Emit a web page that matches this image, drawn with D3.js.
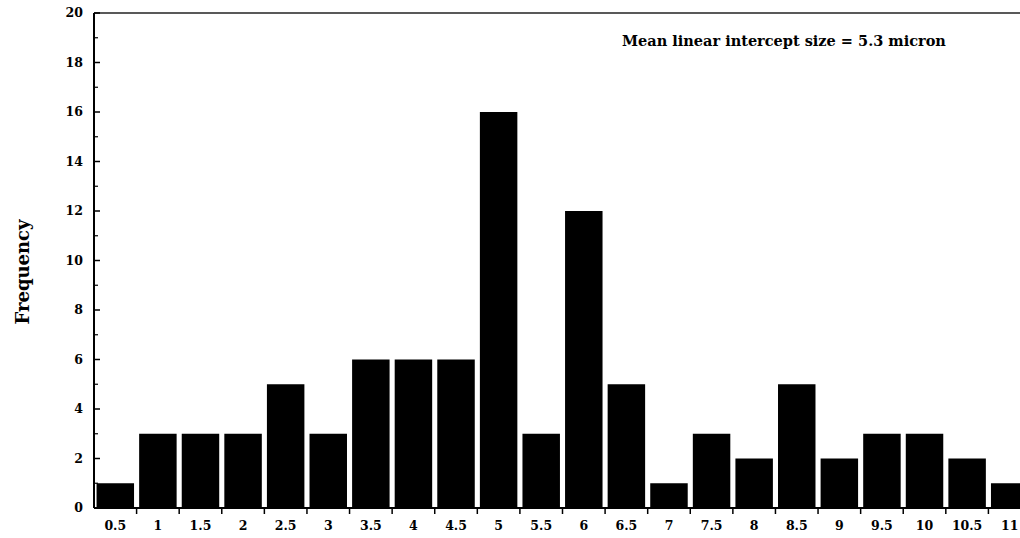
<!DOCTYPE html>
<html>
<head>
<meta charset="utf-8">
<script src="https://cdn.jsdelivr.net/npm/d3@7"></script>
<style>
  body { margin: 0; background: #fff; }
  svg { display: block; }
  text { font-family: "DejaVu Serif", serif; font-weight: bold; fill: #000; }
</style>
</head>
<body>
<div id="chart"></div>
<script>
// intercept size classes (micron) and how many intercepts fell in each
const sizes = ["0.5", "1", "1.5", "2", "2.5", "3", "3.5", "4", "4.5", "5", "5.5",
               "6", "6.5", "7", "7.5", "8", "8.5", "9", "9.5", "10", "10.5", "11"];
const counts = [1, 3, 3, 3, 5, 3, 6, 6, 6, 16, 3, 12, 5, 1, 3, 2, 5, 2, 3, 3, 2, 1];
const yTicks = [0, 2, 4, 6, 8, 10, 12, 14, 16, 18, 20];
const yMinor = [1, 3, 5, 7, 9, 11, 13, 15, 17, 19];
const note = "Mean linear intercept size = 5.3 micron";

const width = 1020,
      height = 538;

// plot box, the picture is cut off on the right so the last band runs past the edge
const plotLeft = 94, plotTop = 13, plotBottom = 508, plotRight = 1031;

let svg = d3.select("#chart")
            .append("svg")
            .attr("width", width)
            .attr("height", height);

let x = d3.scaleBand()
          .domain(sizes)
          .range([plotLeft, plotRight])
          .paddingInner(0.12)
          .paddingOuter(0.06);

let y = d3.scaleLinear()
          .domain([0, 20])
          .range([plotBottom, plotTop]);

// bars
svg.append("g")
   .selectAll("rect")
   .data(counts)
   .enter()
   .append("rect")
   .attr("x", (d, i) => x(sizes[i]))
   .attr("width", x.bandwidth())
   .attr("y", d => y(d))
   .attr("height", d => y(0) - y(d))
   .attr("fill", "#000");

// top frame line
svg.append("line")
   .attr("x1", plotLeft).attr("x2", width)
   .attr("y1", plotTop).attr("y2", plotTop)
   .attr("stroke", "#222")
   .attr("stroke-width", 1.5);

/////// Y AXIS ///////
let yAxis = svg.append("g");
yAxis.append("line")
     .attr("x1", plotLeft).attr("x2", plotLeft)
     .attr("y1", plotTop).attr("y2", plotBottom)
     .attr("stroke", "#000")
     .attr("stroke-width", 2);

yAxis.selectAll(".major")
     .data(yTicks)
     .enter()
     .append("line")
     .attr("x1", plotLeft).attr("x2", plotLeft + 6)
     .attr("y1", d => y(d)).attr("y2", d => y(d))
     .attr("stroke", "#000")
     .attr("stroke-width", 1.5);

yAxis.selectAll(".minor")
     .data(yMinor)
     .enter()
     .append("line")
     .attr("x1", plotLeft).attr("x2", plotLeft + 4)
     .attr("y1", d => y(d)).attr("y2", d => y(d))
     .attr("stroke", "#000")
     .attr("stroke-width", 1.2);

yAxis.selectAll("text")
     .data(yTicks)
     .enter()
     .append("text")
     .attr("x", plotLeft - 11)
     .attr("y", d => y(d))
     .attr("dy", "0.35em")
     .attr("text-anchor", "end")
     .style("font-size", "12.5px")
     .text(d => d);

/////// X AXIS ///////
let xAxis = svg.append("g");
xAxis.append("line")
     .attr("x1", plotLeft).attr("x2", width)
     .attr("y1", plotBottom).attr("y2", plotBottom)
     .attr("stroke", "#000")
     .attr("stroke-width", 2);

// ticks sit on the boundaries between the size classes
const step = x.step();
xAxis.selectAll(".tick")
     .data(sizes.slice(1))
     .enter()
     .append("line")
     .attr("x1", d => x(d) - step * x.paddingInner() / 2)
     .attr("x2", d => x(d) - step * x.paddingInner() / 2)
     .attr("y1", plotBottom).attr("y2", plotBottom + 6)
     .attr("stroke", "#000")
     .attr("stroke-width", 1.5);

xAxis.selectAll("text")
     .data(sizes)
     .enter()
     .append("text")
     .attr("x", d => x(d) + x.bandwidth() / 2)
     .attr("y", 530)
     .attr("text-anchor", "middle")
     .style("font-size", "12.5px")
     .text(d => d);

// axis title
svg.append("text")
   .attr("transform", "translate(29,272) rotate(-90)")
   .attr("text-anchor", "middle")
   .style("font-size", "18px")
   .text("Frequency");

// annotation
svg.append("text")
   .attr("x", 622)
   .attr("y", 46)
   .style("font-size", "14.5px")
   .text(note);
</script>
</body>
</html>
